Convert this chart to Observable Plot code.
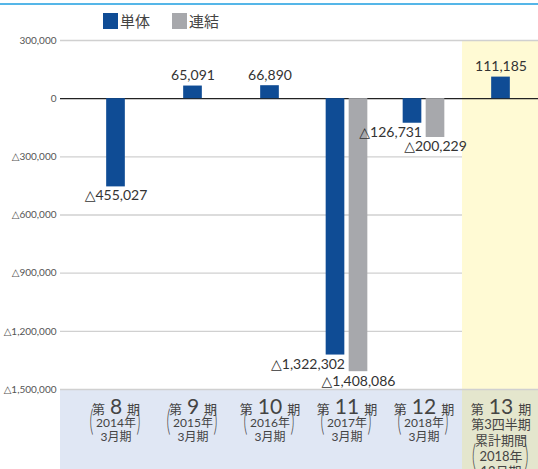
<!DOCTYPE html>
<html><head><meta charset="utf-8">
<script src="https://cdn.jsdelivr.net/npm/d3@7"></script>
<script src="https://cdn.jsdelivr.net/npm/@observablehq/plot@0.6"></script>
<style>
body{margin:0;background:#fff;font-family:Lato,"DejaVu Sans","Noto Sans CJK JP",sans-serif;}
#wrap{position:relative;width:538px;}
#topline{height:2px;background:#55b6e8;position:absolute;top:3px;left:0;right:0;}
#legend{height:32px;position:relative;}
.sw{position:absolute;top:13px;width:15px;height:16px;}
.lt{position:absolute;top:11px;font-size:15px;color:#444;font-family:"Noto Sans CJK JP";line-height:20px;}
svg{display:block}
</style></head><body>
<div id="wrap"><div id="topline"></div><div id="legend"></div><div id="chart"></div></div>
<script>
const periods = ["第8期","第9期","第10期","第11期","第12期","第13期"];
const periodNums = ["8","9","10","11","12","13"];
const fiscalYears = ["2014年","2015年","2016年","2017年","2018年","2018年"];
const fiscalMonths = ["3月期","3月期","3月期","3月期","3月期","12月期"];
const extraLines = ["","","","","","第3四半期\n累計期間"];
const tantai = [-455027, 65091, 66890, -1322302, -126731, 111185];
const renketsu = [null, null, null, -1408086, -200229, null];
const yTicks = [300000, 0, -300000, -600000, -900000, -1200000, -1500000];
const seriesNames = ["単体","連結"];
const seriesColors = ["#0f4c95","#a7a8ac"];

// legend
const legendLeft = [103, 172];
const lg = document.getElementById("legend");
seriesNames.forEach((n, k) => {
  const s = document.createElement("span"); s.className = "sw";
  s.style.left = legendLeft[k] + "px"; s.style.background = seriesColors[k]; lg.appendChild(s);
  const t = document.createElement("span"); t.className = "lt";
  t.style.left = (legendLeft[k] + 17) + "px"; t.textContent = n; lg.appendChild(t);
});

const data = periods.map((p, i) => ({p, i, t: tantai[i], r: renketsu[i]}));
const fmt = v => (v < 0 ? "△" : "") + d3.format(",")(Math.abs(v));
const W = 538, H = 437, mt = 8, mb = 80, ml = 60, mr = 0;
const yMin = -1500000, yMax = 300000;
const yFloor = yMin - (yMax - yMin) * mb / (H - mt - mb);
const xRange = [76, 540];
const bandW = (xRange[1] - xRange[0]) / periods.length;
const barW = 19, off = 11.5;
const inset = (bandW - barW) / 2;
const last = data.filter(d => extraLines[d.i]);
const regular = data.filter(d => !extraLines[d.i]);
const single = data.filter(d => d.r == null);
const paired = data.filter(d => d.r != null);
const txt = "#333", lab = "#444";

const plot = Plot.plot({
  width: W, height: H, marginTop: mt, marginBottom: mb, marginLeft: ml, marginRight: mr,
  style: {fontFamily: 'Lato, "DejaVu Sans", "Noto Sans CJK JP", sans-serif', fontSize: "11px", background: "transparent"},
  x: {domain: periods, range: xRange, padding: 0, axis: null},
  y: {domain: [yMin, yMax], axis: null},
  marks: [
    Plot.ruleY(yTicks.filter(d => d !== 0 && d !== yMax && d !== yMin), {stroke: "#d0d0d0", strokeWidth: 1.3}),
    Plot.barY(last, {x: "p", y1: yMin, y2: yMax, fill: "#fffad4"}),
    Plot.barY([0], {y1: yMin, y2: yFloor, fill: "#e0e7f4"}),
    Plot.barY(last, {x: "p", y1: yMin, y2: yFloor, fill: "#e4e6cd"}),
    Plot.ruleY([yMax, yMin], {stroke: "#d0d0d0", strokeWidth: 1.3}),
    Plot.axisY(yTicks, {tickSize: 0, tickPadding: 4, tickFormat: fmt, fontSize: 10, fill: "#555"}),
    Plot.ruleY([0], {stroke: "#222", strokeWidth: 1.2}),
    Plot.barY(single, {x: "p", y: "t", fill: seriesColors[0], insetLeft: inset, insetRight: inset}),
    Plot.barY(paired, {x: "p", y: "t", fill: seriesColors[0], insetLeft: inset, insetRight: inset, dx: -off}),
    Plot.barY(paired, {x: "p", y: "r", fill: seriesColors[1], insetLeft: inset, insetRight: inset, dx: off}),
    // value labels
    Plot.text(single.filter(d => d.t > 0), {x: "p", y: "t", text: d => fmt(d.t), lineAnchor: "bottom", dy: -6, fontSize: 14, fill: txt}),
    Plot.text(single.filter(d => d.t < 0), {x: "p", y: "t", text: d => fmt(d.t), lineAnchor: "top", dy: 3, fontSize: 14, fill: txt}),
    Plot.text(paired, {x: "p", y: "t", text: d => fmt(d.t), lineAnchor: "top", textAnchor: "end", dx: -2, dy: 4, fontSize: 14, fill: txt}),
    Plot.text(paired, {x: "p", y: "r", text: d => fmt(d.r), lineAnchor: "top", dx: off, dy: 4, fontSize: 14, fill: txt}),
    // category labels
    Plot.text(data, {x: "p", text: "p", frameAnchor: "bottom", lineAnchor: "bottom", dy: 24, fontSize: 13, fill: lab}),
    Plot.text(regular, {x: "p", text: d => fiscalYears[d.i] + "\n" + fiscalMonths[d.i], frameAnchor: "bottom", lineAnchor: "bottom", lineHeight: 1.1, dy: 51, fontSize: 12, fill: lab}),
    Plot.text(regular, {x: "p", text: () => "(", frameAnchor: "bottom", dx: -24.5, dy: 41, fontSize: 30, fontWeight: 300, fill: lab}),
    Plot.text(regular, {x: "p", text: () => ")", frameAnchor: "bottom", dx: 22.5, dy: 41, fontSize: 30, fontWeight: 300, fill: lab}),
    Plot.text(last, {x: "p", text: d => extraLines[d.i], frameAnchor: "bottom", lineAnchor: "bottom", lineHeight: 1.2, dy: 55, fontSize: 13, fill: lab}),
    Plot.text(last, {x: "p", text: d => fiscalYears[d.i] + "\n" + fiscalMonths[d.i], frameAnchor: "bottom", lineAnchor: "bottom", lineHeight: 1.1, dy: 86, fontSize: 13, fill: lab}),
    Plot.text(last, {x: "p", text: () => "(", frameAnchor: "bottom", dx: -27, dy: 76, fontSize: 30, fontWeight: 300, fill: lab}),
    Plot.text(last, {x: "p", text: () => ")", frameAnchor: "bottom", dx: 25.5, dy: 76, fontSize: 30, fontWeight: 300, fill: lab})
  ]
});
document.getElementById("chart").appendChild(plot);

// style period labels: small 第/期, large number
d3.select(plot).selectAll("text").filter(function() { return periods.includes(this.textContent); })
  .each(function() {
    const k = periods.indexOf(this.textContent);
    const el = d3.select(this); el.text(null);
    el.append("tspan").attr("font-size", 13).text(periods[k].slice(0, 1));
    el.append("tspan").attr("font-size", 21).attr("dx", 5).text(periodNums[k]);
    el.append("tspan").attr("font-size", 13).attr("dx", 5).text(periods[k].slice(-1));
  });
// thin tall parentheses
d3.select(plot).selectAll("text").filter(function() { return this.textContent === "(" || this.textContent === ")"; })
  .each(function() {
    const t = this.getAttribute("transform") || "";
    const x = this.getAttribute("x"), y = this.getAttribute("y");
    let tr = t;
    if (x !== null && !isNaN(+x)) { tr += ` translate(${+x},0)`; this.removeAttribute("x"); }
    if (y !== null && !isNaN(+y)) { tr += ` translate(0,${+y})`; this.removeAttribute("y"); }
    this.setAttribute("transform", tr + " scale(0.5,1)");
  });
</script>
</body></html>
